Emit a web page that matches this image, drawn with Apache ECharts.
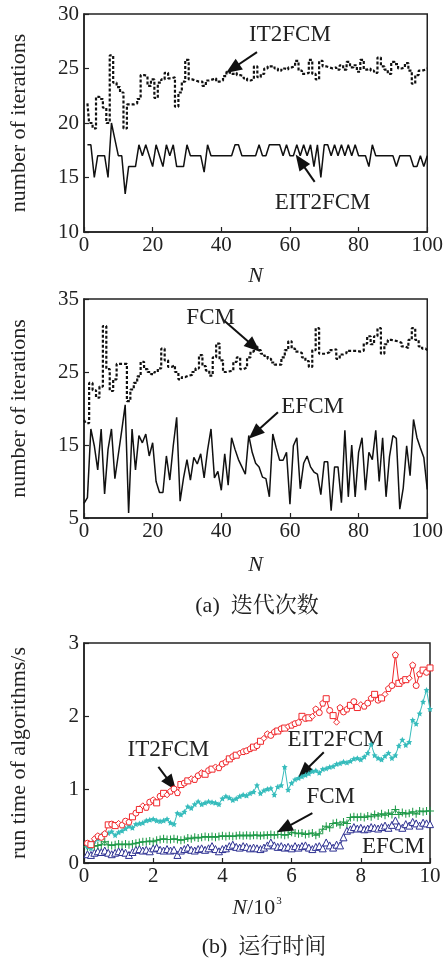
<!DOCTYPE html>
<html>
<head>
<meta charset="utf-8">
<script src="https://cdn.jsdelivr.net/npm/echarts@6/dist/echarts.min.js"></script>
<style>html,body{margin:0;padding:0;background:#fff;}#c{width:446px;height:959px;}</style>
</head>
<body>
<div id="c"></div>
<script>
// ---------- (a) iterations, chart 1 : N = 1..100 ----------
const IT2FCM_iter = [21.8,20.0,19.5,22.4,22.2,21.4,20.0,26.2,23.7,23.3,
 22.8,19.5,21.7,21.7,21.8,22.2,24.4,24.3,23.4,24.0,
 22.3,23.7,24.0,24.6,24.1,24.2,21.5,22.8,23.8,25.8,
 24.0,23.9,23.8,23.8,23.4,23.9,24.0,24.1,23.8,23.9,
 24.3,24.7,24.5,24.6,24.4,24.3,24.1,23.9,24.0,25.2,
 24.2,24.5,25.0,25.2,25.2,25.0,24.8,25.0,24.9,25.1,
 25.2,25.7,24.8,24.5,24.6,25.8,24.5,24.0,25.7,25.2,
 25.1,25.0,25.1,24.9,25.3,24.9,25.6,25.1,25.3,24.7,
 25.8,24.9,25.0,24.8,24.6,26.0,25.2,24.9,24.5,25.6,
 25.4,25.0,25.1,25.5,24.8,23.6,24.4,24.8,24.9,25.0];
const EIT2FCM_iter = [18,18,15,17,17,17,15,20,18.5,17,
 17,13.5,16,16,16,18,17,18,17,16,
 18,17,16,18,17,18,16,16,16,18,
 17,17,17,17,15.5,18,17,17,17,17,
 17,17,17,18,18,17,17,17,17,17,
 18,17,17,18,18,18,18,17,18,17,
 17,18,17,18,17,18,16,18,15,18,
 18,17,18,17,18,17,18,17,18,17,
 17,17,16,18,17,17,17,17,17,17,
 16,17,17,17,17,16,16,17,16,17];
// ---------- (a) iterations, chart 2 : N = 0..100 ----------
const FCM_iter = [18.4,18.0,23.5,22.5,21.5,23.0,31.3,25.4,22.4,24.0,
 26.1,26.1,26.1,21.0,22.6,23.5,24.4,26.4,25.4,25.0,
 24.7,25.0,25.5,28.2,26.6,25.7,25.9,25.0,24.0,24.3,
 24.5,24.6,25.0,25.5,27.3,25.8,25.2,24.5,27.0,28.9,
 26.6,25.0,25.1,25.2,26.4,27.0,25.4,25.6,27.0,27.8,
 28.5,28.0,27.5,27.2,26.8,26.3,26.0,26.0,27.0,28.0,
 29.2,28.2,27.8,27.6,27.0,26.5,25.7,28.0,31.0,27.5,
 27.5,27.7,28.0,28.1,26.8,27.4,27.6,27.9,27.9,27.9,
 27.8,27.9,28.9,29.9,28.8,29.9,31.0,27.5,28.8,29.4,
 29.3,29.2,29.0,28.5,28.3,29.4,31.0,29.4,28.5,28.2,
 28.0];
const EFCM_iter = [7.0,7.8,17.2,14.9,11.6,17.2,8.3,14.4,17.2,10.4,
 13.7,17.0,20.5,5.7,17.2,11.6,16.3,15.3,16.5,13.5,
 15.3,10.0,8.5,8.5,13.5,10.2,14.9,18.8,7.3,10.5,
 13.0,10.2,13.3,12.4,13.8,10.5,14.3,17.2,10.5,11.4,
 8.8,13.8,9.5,16.0,14.4,13.0,12.0,11.0,16.3,14.0,
 12.5,12.0,10.6,10.4,7.9,16.5,14.6,12.9,12.9,14.0,
 6.9,14.9,16.0,9.0,12.5,13.5,12.0,11.3,11.0,8.2,
 12.7,12.7,6.0,12.0,12.0,7.1,17.0,7.9,15.0,7.9,
 14.0,16.0,8.8,14.0,13.0,17.0,10.0,16.0,7.9,13.4,
 16.3,15.9,6.2,9.1,14.9,10.8,18.5,16.0,14.6,13.3,
 8.9];
// ---------- (b) run time, N/10^3 = 0.1..10 ----------
const IT2FCM_time = [0.27,0.25,0.33,0.37,0.35,0.40,0.52,0.53,0.51,0.54,
 0.52,0.57,0.56,0.63,0.68,0.73,0.78,0.76,0.83,0.86,
 0.82,0.91,0.95,0.93,0.98,1.01,0.96,1.07,1.09,1.12,
 1.15,1.14,1.19,1.23,1.21,1.26,1.28,1.31,1.30,1.35,
 1.38,1.42,1.45,1.47,1.50,1.52,1.53,1.56,1.58,1.60,
 1.66,1.70,1.76,1.74,1.79,1.80,1.83,1.84,1.86,1.88,
 1.90,1.92,2.00,1.97,1.98,2.00,2.10,2.05,2.18,2.24,
 2.08,2.01,1.92,2.12,2.06,2.10,2.15,2.20,2.12,2.16,
 2.14,2.18,2.25,2.30,2.22,2.25,2.30,2.38,2.42,2.84,
 2.45,2.48,2.50,2.52,2.70,2.42,2.58,2.63,2.60,2.66];
const EIT2FCM_time = [0.22,0.20,0.30,0.33,0.38,0.40,0.41,0.43,0.38,0.42,
 0.44,0.47,0.50,0.48,0.53,0.54,0.55,0.58,0.59,0.60,
 0.58,0.57,0.58,0.60,0.55,0.53,0.68,0.66,0.70,0.77,
 0.75,0.80,0.84,0.80,0.82,0.84,0.83,0.82,0.80,0.88,
 0.91,0.89,0.86,0.88,0.91,0.93,0.92,0.95,0.97,1.06,
 0.95,0.99,1.01,1.02,0.93,1.04,1.06,1.31,1.00,1.09,
 1.14,1.16,1.18,1.20,1.22,1.25,1.26,1.23,1.28,1.29,
 1.31,1.32,1.35,1.36,1.38,1.37,1.39,1.42,1.43,1.41,
 1.45,1.50,1.62,1.47,1.43,1.41,1.46,1.50,1.43,1.47,
 1.60,1.68,1.61,1.65,1.95,1.90,2.04,2.20,2.36,2.10];
const FCM_time = [0.22,0.23,0.23,0.24,0.25,0.29,0.25,0.24,0.25,0.26,
 0.25,0.26,0.25,0.26,0.27,0.28,0.29,0.29,0.30,0.29,
 0.31,0.32,0.33,0.32,0.32,0.33,0.32,0.31,0.32,0.34,
 0.33,0.35,0.34,0.35,0.36,0.35,0.36,0.35,0.36,0.37,
 0.36,0.37,0.36,0.37,0.38,0.37,0.38,0.37,0.38,0.38,
 0.37,0.38,0.38,0.39,0.38,0.39,0.39,0.38,0.39,0.42,
 0.41,0.40,0.41,0.39,0.40,0.41,0.38,0.40,0.46,0.50,
 0.48,0.54,0.55,0.52,0.56,0.54,0.62,0.63,0.62,0.63,
 0.62,0.64,0.63,0.66,0.64,0.67,0.65,0.68,0.66,0.73,
 0.66,0.69,0.67,0.68,0.70,0.67,0.71,0.70,0.71,0.71];
const EFCM_time = [0.12,0.11,0.14,0.16,0.15,0.17,0.14,0.12,0.14,0.16,
 0.15,0.14,0.11,0.15,0.18,0.19,0.17,0.18,0.16,0.20,
 0.21,0.18,0.17,0.19,0.17,0.18,0.11,0.17,0.19,0.21,
 0.18,0.17,0.19,0.20,0.18,0.20,0.23,0.19,0.16,0.19,
 0.20,0.23,0.25,0.22,0.21,0.23,0.22,0.20,0.21,0.20,
 0.19,0.21,0.24,0.28,0.24,0.22,0.23,0.21,0.22,0.20,
 0.23,0.21,0.23,0.24,0.21,0.19,0.22,0.23,0.20,0.28,
 0.24,0.21,0.25,0.24,0.35,0.44,0.46,0.49,0.47,0.48,
 0.46,0.47,0.49,0.48,0.47,0.49,0.51,0.48,0.52,0.58,
 0.50,0.48,0.53,0.51,0.56,0.54,0.51,0.55,0.54,0.53];

const xTicks1 = [0,20,40,60,80,100];
const yTicks1 = [10,15,20,25,30];
const yTicks2 = [5,15,25,35];
const xTicks3 = [0,2,4,6,8,10];
const yTicks3 = [0,1,2,3];

const serif = '"Liberation Serif","Times New Roman",serif';
const cjk = '"Liberation Serif","Noto Serif CJK SC","Noto Sans CJK SC",serif';
const ink = '#222';

const pairs = (arr, x0, step) => arr.map((v, i) => [x0 + i * step, v]);
const pairsT = arr => arr.map((v, i) => [(i + 1) / 10, v]);

function note(text, x, y) {
  return {coord: [x, y], symbol: 'circle', symbolSize: 0,
    label: {show: true, position: 'inside', formatter: text, color: ink, fontSize: 23, fontFamily: serif}};
}
function arrow(x1, y1, x2, y2) {
  return [{coord: [x1, y1]}, {coord: [x2, y2]}];
}
function marks(notes, arrows) {
  return {
    markPoint: {silent: true, animation: false, data: notes},
    markLine: {silent: true, animation: false, symbol: ['none', 'triangle'], symbolSize: [13, 16],
      label: {show: false}, lineStyle: {color: '#111', width: 2, type: 'solid'}, emphasis: {disabled: true},
      data: arrows}
  };
}

function xAxis(gi, min, max, interval, name, nameGap) {
  return {gridIndex: gi, type: 'value', min, max, interval,
    axisLine: {show: true, lineStyle: {color: ink, width: 1.5}},
    axisTick: {show: true, inside: true, length: 5, lineStyle: {color: ink, width: 1.2}},
    splitLine: {show: false},
    axisLabel: {color: ink, fontFamily: serif, fontSize: 21, margin: 3},
    name, nameLocation: 'middle', nameGap,
    nameTextStyle: {color: ink, fontFamily: serif, fontSize: 22, fontStyle: 'italic',
      rich: {i: {fontFamily: serif, fontSize: 22, fontStyle: 'italic', color: ink},
             n: {fontFamily: serif, fontSize: 22, fontStyle: 'normal', color: ink},
             s: {fontFamily: serif, fontSize: 11, fontStyle: 'normal', color: ink, verticalAlign: 'top', padding: [0, 0, 14, 1]}}}
  };
}
function yAxis(gi, min, max, interval, name) {
  return {gridIndex: gi, type: 'value', min, max, interval,
    axisLine: {show: true, lineStyle: {color: ink, width: 1.5}},
    axisTick: {show: true, inside: true, length: 5, lineStyle: {color: ink, width: 1.2}},
    splitLine: {show: false},
    axisLabel: {color: ink, fontFamily: serif, fontSize: 21, margin: 5},
    name, nameLocation: 'middle', nameGap: 54,
    nameTextStyle: {color: ink, fontFamily: serif, fontSize: 22}
  };
}

const gridBase = {show: true, borderColor: ink, borderWidth: 1.5, backgroundColor: 'transparent'};
const pentagon = 'path://M0,-10 L9.5,-3.1 L5.9,8.1 L-5.9,8.1 L-9.5,-3.1 Z';
const star = 'path://M0,-10 L2.9,-4 L9.5,-3.1 L4.7,1.5 L5.9,8.1 L0,5 L-5.9,8.1 L-4.7,1.5 L-9.5,-3.1 L-2.9,-4 Z';
const plus = 'path://M-1.3,-10 h2.6 v8.7 h8.7 v2.6 h-8.7 v8.7 h-2.6 v-8.7 h-8.7 v-2.6 h8.7 z';
const redShapes = ['circle', 'rect', 'diamond', pentagon, 'circle', pentagon, 'rect'];

const C_RED = '#f0262a', C_CYAN = '#36bcbc', C_GREEN = '#1f9a48', C_BLUE = '#2e3192';

const option = {
  animation: false,
  backgroundColor: '#fff',
  grid: [
    Object.assign({left: 82, top: 14, width: 347, height: 218}, gridBase),
    Object.assign({left: 82, top: 299, width: 347, height: 219}, gridBase),
    Object.assign({left: 82, top: 643, width: 348, height: 220}, gridBase)
  ],
  xAxis: [
    xAxis(0, 0, 100, 20, 'N', 33),
    xAxis(1, 0, 100, 20, 'N', 36),
    xAxis(2, 0, 10, 2, '{i|N}{n|/10}{s|3}', 33)
  ],
  yAxis: [
    yAxis(0, 10, 30, 5, 'number of iterations'),
    yAxis(1, 5, 35, 10, 'number of iterations'),
    yAxis(2, 0, 3, 1, 'run time of algorithms/s')
  ],
  graphic: [
    {type: 'text', x: 257, y: 606, style: {text: '(a)  迭代次数', align: 'center', verticalAlign: 'middle', font: '22px ' + cjk, fill: ink}},
    {type: 'text', x: 264, y: 947, style: {text: '(b)  运行时间', align: 'center', verticalAlign: 'middle', font: '22px ' + cjk, fill: ink}}
  ],
  series: [
    // chart 1
    Object.assign({type: 'line', name: 'EIT2FCM', xAxisIndex: 0, yAxisIndex: 0, data: pairs(EIT2FCM_iter, 1, 1),
      showSymbol: false, lineStyle: {color: '#111', width: 1.5}, z: 3},
      marks([note('EIT2FCM', 69.5, 12.7)], [arrow(67.2, 14.6, 63.0, 16.5)])),
    Object.assign({type: 'line', name: 'IT2FCM', xAxisIndex: 0, yAxisIndex: 0, data: pairs(IT2FCM_iter, 1, 1),
      step: 'middle', showSymbol: false, lineStyle: {color: '#111', width: 2.2, type: [3, 2]}, z: 4},
      marks([note('IT2FCM', 60, 28.1)], [arrow(50.4, 26.5, 43.3, 25.0)])),
    // chart 2
    Object.assign({type: 'line', name: 'EFCM', xAxisIndex: 1, yAxisIndex: 1, data: pairs(EFCM_iter, 0, 1),
      showSymbol: false, lineStyle: {color: '#111', width: 1.5}, z: 3},
      marks([note('EFCM', 66.6, 20.2)], [arrow(56.5, 19.5, 49.7, 16.6)])),
    Object.assign({type: 'line', name: 'FCM', xAxisIndex: 1, yAxisIndex: 1, data: pairs(FCM_iter, 0, 1),
      step: 'middle', showSymbol: false, lineStyle: {color: '#111', width: 2.2, type: [3, 2]}, z: 4},
      marks([note('FCM', 36.9, 32.4)], [arrow(40.7, 32.1, 49.5, 28.5)])),
    // chart 3
    Object.assign({type: 'line', name: 'EFCM', xAxisIndex: 2, yAxisIndex: 2, data: pairsT(EFCM_time),
      symbol: 'triangle', symbolSize: 7, lineStyle: {color: C_BLUE, width: 1},
      itemStyle: {color: '#fff', borderColor: C_BLUE, borderWidth: 1}, z: 3},
      marks([note('EFCM', 8.94, 0.22)], [])),
    Object.assign({type: 'line', name: 'FCM', xAxisIndex: 2, yAxisIndex: 2, data: pairsT(FCM_time),
      symbol: plus, symbolSize: 8, lineStyle: {color: C_GREEN, width: 1},
      itemStyle: {color: C_GREEN}, z: 4},
      marks([note('FCM', 7.13, 0.9)], [arrow(6.6, 0.68, 5.78, 0.47)])),
    Object.assign({type: 'line', name: 'EIT2FCM', xAxisIndex: 2, yAxisIndex: 2, data: pairsT(EIT2FCM_time),
      symbol: star, symbolSize: 6, lineStyle: {color: C_CYAN, width: 1},
      itemStyle: {color: C_CYAN}, z: 5},
      marks([note('EIT2FCM', 7.27, 1.68)], [arrow(6.93, 1.51, 6.35, 1.24)])),
    Object.assign({type: 'line', name: 'IT2FCM', xAxisIndex: 2, yAxisIndex: 2, data: pairsT(IT2FCM_time),
      symbol: (v, p) => redShapes[p.dataIndex % redShapes.length], symbolSize: 6,
      lineStyle: {color: C_RED, width: 1},
      itemStyle: {color: '#fff', borderColor: C_RED, borderWidth: 1}, z: 6},
      marks([note('IT2FCM', 2.44, 1.54)], [arrow(2.15, 1.31, 2.52, 1.08)]))
  ]
};

const chart = echarts.init(document.getElementById('c'), null, {renderer: 'canvas'});
chart.setOption(option);
</script>
</body>
</html>
